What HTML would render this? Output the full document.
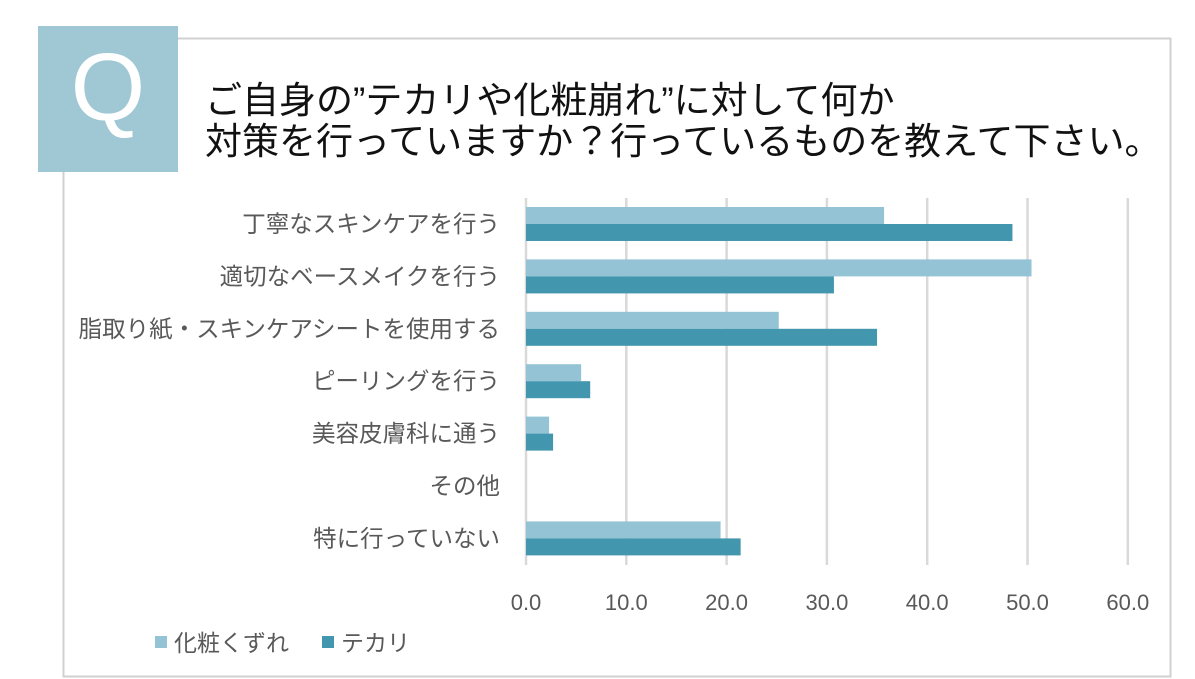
<!DOCTYPE html>
<html><head><meta charset="utf-8"><style>
body{margin:0;width:1195px;height:679px;background:#fff;overflow:hidden;font-family:"Liberation Sans","Noto Sans CJK JP",sans-serif;}
</style></head><body>
<svg width="1195" height="679" style="position:absolute;left:0;top:0">
<rect x="63.5" y="38.5" width="1107" height="638" fill="#fff" stroke="#d0d0d0" stroke-width="2"/>
<rect x="38" y="26" width="140" height="146" fill="#9fc8d4"/>
<text x="108" y="120" text-anchor="middle" font-size="96" fill="#fff" font-family="Liberation Sans, sans-serif">Q</text>
<text x="205" y="113" font-size="37" fill="#111">ご自身の”テカリや化粧崩れ”に対して何か</text>
<text x="205" y="154" font-size="37" fill="#111">対策を行っていますか？行っているものを教えて下さい。</text>
<g id="grid"></g><g id="bars"></g><g id="labels"></g>
<rect x="155" y="636" width="12" height="12" fill="#93c3d4"/>
<text x="174" y="651" font-size="23" fill="#595959">化粧くずれ</text>
<rect x="322" y="636" width="12" height="12" fill="#4296ad"/>
<text x="341" y="651" font-size="23" fill="#595959">テカリ</text>
</svg>
<script>
const categories=["丁寧なスキンケアを行う","適切なベースメイクを行う","脂取り紙・スキンケアシートを使用する","ピーリングを行う","美容皮膚科に通う","その他","特に行っていない"];
const makeupValues=[35.7,50.4,25.2,5.5,2.3,0,19.4];
const shineValues=[48.5,30.7,35.0,6.4,2.7,0,21.4];
const ticks=[0,10,20,30,40,50,60];
const NS="http://www.w3.org/2000/svg";
const x0=526,pxPer=10.03,rowTop=198,rowH=52.4;
function xs(v){return x0+v*pxPer;}
function mk(t,a,p){const e=document.createElementNS(NS,t);for(const k in a)e.setAttribute(k,a[k]);p.appendChild(e);return e;}
const g=document.getElementById('grid'),b=document.getElementById('bars'),l=document.getElementById('labels');
ticks.forEach(t=>{
 const ln=mk('line',{x1:xs(t),x2:xs(t),y1:198,y2:565,stroke:'#d9d9d9','stroke-width':2.5},g);
 
 
 const tx=mk('text',{x:xs(t),y:610,'text-anchor':'middle','font-size':22,fill:'#595959'},l);
 tx.textContent=t.toFixed(1);
 
 
});
categories.forEach((c,i)=>{
 const cy=rowTop+rowH*i+26;
 const r1=mk('rect',{x:x0,y:cy-17,width:makeupValues[i]*pxPer,height:17,fill:'#93c3d4'},b);
 
 
 const r2=mk('rect',{x:x0,y:cy,width:shineValues[i]*pxPer,height:17,fill:'#4296ad'},b);
 
 
 const t=mk('text',{x:500,y:cy+8,'text-anchor':'end','font-size':23.5,fill:'#595959'},l);
 t.textContent=c;
 
 
});
</script>
</body></html>
